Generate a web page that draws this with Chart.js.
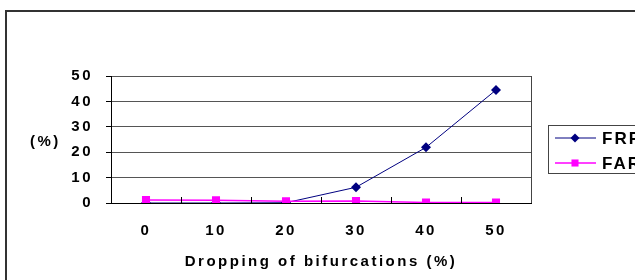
<!DOCTYPE html>
<html>
<head>
<meta charset="utf-8">
<script src="https://cdn.jsdelivr.net/npm/chart.js@4/dist/chart.umd.min.js"></script>
<style>
  body { margin: 0; background: #fff; }
  canvas { display: block; }
</style>
</head>
<body>
<canvas id="chart" width="635" height="280"></canvas>
<script>
// données
const categories = ["0", "10", "20", "30", "40", "50"];
const frrValues = [0, 0, 0.1, 6.2, 21.9, 44.5];
const farValues = [1.2, 1.1, 0.7, 0.8, 0.2, 0.2];
const yTicks = [0, 10, 20, 30, 40, 50];
const seriesNames = ["FRR", "FAR"];

const FONT = "'Liberation Sans', Arial, sans-serif";
const SPACING = "2.5px";

// cadre, bord droit, petites graduations internes, "(%)" et légende
const decorPlugin = {
  id: "decor",
  beforeDraw(chart) {
    chart.ctx.letterSpacing = SPACING;
  },
  afterDraw(chart) {
    const ctx = chart.ctx;
    const area = chart.chartArea;
    const x = chart.scales.x;
    ctx.save();
    ctx.letterSpacing = SPACING;

    // cadre extérieur
    ctx.strokeStyle = "#333";
    ctx.lineWidth = 2;
    ctx.strokeRect(6, 11, 700, 300);

    // bord droit du tracé
    ctx.strokeStyle = "#444";
    ctx.lineWidth = 1;
    ctx.beginPath();
    ctx.moveTo(area.right + 0.5, area.top);
    ctx.lineTo(area.right + 0.5, area.bottom);
    ctx.stroke();

    // graduations entre les catégories
    ctx.strokeStyle = "#000";
    for (let i = 1; i < categories.length; i++) {
      const px = Math.round((x.getPixelForTick(i - 1) + x.getPixelForTick(i)) / 2) + 0.5;
      ctx.beginPath();
      ctx.moveTo(px, area.bottom);
      ctx.lineTo(px, area.bottom - 6);
      ctx.stroke();
    }

    // titre de l'axe y
    ctx.fillStyle = "#000";
    ctx.font = "bold 15px " + FONT;
    ctx.textAlign = "left";
    ctx.textBaseline = "middle";
    ctx.fillText("(%)", 30, 142);

    // légende
    ctx.strokeStyle = "#444";
    ctx.lineWidth = 1;
    ctx.strokeRect(548.5, 125.5, 120, 48);
    chart.data.datasets.forEach((ds, i) => {
      const ly = [138, 163][i];
      ctx.strokeStyle = ds.borderColor;
      ctx.lineWidth = ds.borderWidth;
      ctx.beginPath();
      ctx.moveTo(555, ly);
      ctx.lineTo(596, ly);
      ctx.stroke();
      ctx.fillStyle = ds.pointBackgroundColor;
      Chart.helpers.drawPoint(ctx, {
        pointStyle: ds.pointStyle,
        radius: i === 0 ? 4.5 : 5,
        rotation: 0,
        borderWidth: 0
      }, 575, ly);
      ctx.fillStyle = "#000";
      ctx.font = "bold 17px " + FONT;
      ctx.letterSpacing = "2px";
      ctx.textAlign = "left";
      ctx.textBaseline = "middle";
      ctx.fillText(ds.label, 602, ly + 1);
    });
    ctx.restore();
  }
};

const ctx = document.getElementById("chart").getContext("2d");
const chart = new Chart(ctx, {
  type: "line",
  data: {
    labels: categories,
    datasets: [{
      label: seriesNames[0],
      data: frrValues,
      borderColor: "#000080",
      backgroundColor: "#000080",
      pointBackgroundColor: "#000080",
      borderWidth: 1,
      pointStyle: "rectRot",
      pointRadius: 5,
      pointBorderWidth: 0,
      tension: 0,
      order: 1
    }, {
      label: seriesNames[1],
      data: farValues,
      borderColor: "#ff00ff",
      backgroundColor: "#ff00ff",
      pointBackgroundColor: "#ff00ff",
      borderWidth: 1.5,
      pointStyle: "rect",
      pointRadius: 5.7,
      pointBorderWidth: 0,
      tension: 0,
      order: 0
    }]
  },
  options: {
    responsive: false,
    animation: false,
    layout: { padding: { top: 76, right: 104, left: 0, bottom: 0 } },
    plugins: {
      legend: { display: false },
      tooltip: { enabled: false }
    },
    scales: {
      x: {
        offset: true,
        afterFit: (s) => { s.height = 77; },
        grid: { display: true, drawOnChartArea: false, drawTicks: false },
        border: { color: "#000", width: 1 },
        ticks: {
          color: "#000",
          font: { family: FONT, size: 15, weight: "bold" },
          padding: 19,
          maxRotation: 0
        },
        title: {
          display: true,
          text: "Dropping of bifurcations (%)",
          color: "#000",
          font: { family: FONT, size: 15, weight: "bold" },
          padding: { top: 0, bottom: 9 }
        }
      },
      y: {
        min: 0,
        max: 50,
        afterFit: (s) => { s.width = 111; },
        afterBuildTicks: (s) => { s.ticks = yTicks.map(v => ({ value: v })); },
        grid: { color: "#555", lineWidth: 1, tickLength: 5, tickColor: "#000" },
        border: { color: "#000", width: 1 },
        ticks: {
          color: "#000",
          font: { family: FONT, size: 15, weight: "bold" },
          padding: 13
        }
      }
    }
  },
  plugins: [decorPlugin]
});
</script>
</body>
</html>
